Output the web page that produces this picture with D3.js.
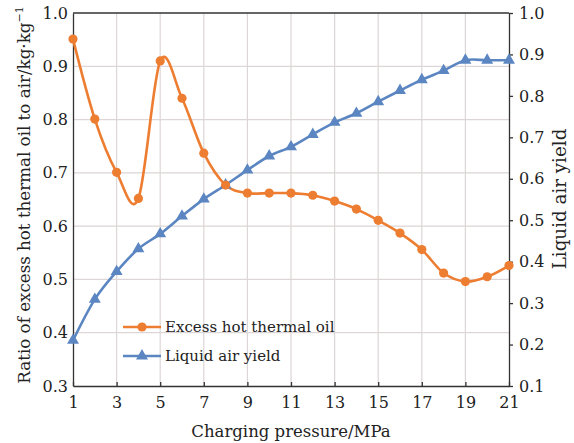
<!DOCTYPE html>
<html>
<head>
<meta charset="utf-8">
<script src="https://cdn.jsdelivr.net/npm/d3@7"></script>
<style>
  html, body { margin: 0; padding: 0; background: #fff; }
</style>
</head>
<body>
<svg id="chart" width="574" height="443"></svg>
<script>
const pressure = [1,2,3,4,5,6,7,8,9,10,11,12,13,14,15,16,17,18,19,20,21];
const oilRatio = [0.951,0.801,0.701,0.652,0.910,0.840,0.737,0.677,0.662,0.662,0.662,0.658,0.647,0.632,0.611,0.587,0.556,0.512,0.496,0.505,0.526];
const airYield = [0.210,0.309,0.376,0.431,0.467,0.510,0.551,0.585,0.621,0.655,0.677,0.707,0.736,0.758,0.786,0.813,0.839,0.861,0.886,0.886,0.886];
const xTicks = [1,3,5,7,9,11,13,15,17,19,21];
const leftTicks = [0.3,0.4,0.5,0.6,0.7,0.8,0.9,1.0];
const rightTicks = [0.1,0.2,0.3,0.4,0.5,0.6,0.7,0.8,0.9,1.0];
const seriesNames = ["Excess hot thermal oil", "Liquid air yield"];

const FONT = "DejaVu Serif";
const orange = "#ED7D31", blue = "#5B86C2", grid = "#ddd6d6", axisCol = "#333", textCol = "#222";
const L = 73, R = 509, T = 13, B = 386;

const svg = d3.select("#chart").attr("font-family", FONT);
const x = d3.scaleLinear().domain([1,21]).range([L,R]);
const yL = d3.scaleLinear().domain([0.3,1.0]).range([B,T]);
const yR = d3.scaleLinear().domain([0.1,1.0]).range([B,T]);

// grid
svg.append("g").selectAll("line").data(xTicks.slice(1,-1)).join("line")
  .attr("x1", d=>x(d)).attr("x2", d=>x(d)).attr("y1", T).attr("y2", B)
  .attr("stroke", grid).attr("stroke-width", 1.2);
svg.append("g").selectAll("line").data(leftTicks.slice(1,-1)).join("line")
  .attr("y1", d=>yL(d)).attr("y2", d=>yL(d)).attr("x1", L).attr("x2", R)
  .attr("stroke", grid).attr("stroke-width", 1.2);

// axes
const fs = "16px";
const gx = svg.append("g").attr("transform", `translate(0,${B})`)
  .call(d3.axisBottom(x).tickValues(xTicks).tickFormat(d3.format("d")).tickSizeInner(-4).tickSizeOuter(0).tickPadding(10.5));
const gl = svg.append("g").attr("transform", `translate(${L},0)`)
  .call(d3.axisLeft(yL).tickValues(leftTicks).tickFormat(d3.format(".1f")).tickSizeInner(0).tickSizeOuter(0).tickPadding(5));
const gr = svg.append("g").attr("transform", `translate(${R},0)`)
  .call(d3.axisRight(yR).tickValues(rightTicks).tickFormat(d3.format(".1f")).tickSizeInner(4).tickSizeOuter(0).tickPadding(6));
[gx,gl,gr].forEach(g => {
  g.attr("font-family", FONT);
  g.selectAll("path.domain").attr("stroke", axisCol).attr("stroke-width", 1.3);
  g.selectAll(".tick line").attr("stroke", axisCol).attr("stroke-width", 1.3);
  g.selectAll("text").attr("font-size", fs).attr("fill", textCol);
});
// top border
svg.append("line").attr("x1", L).attr("x2", R).attr("y1", T).attr("y2", T)
  .attr("stroke", axisCol).attr("stroke-width", 1.3);

// lines
const lineOil = d3.line().x((d,i)=>x(pressure[i])).y(d=>yL(d)).curve(d3.curveCatmullRom.alpha(0));
const lineAir = d3.line().x((d,i)=>x(pressure[i])).y(d=>yR(d)).curve(d3.curveCatmullRom.alpha(0));

svg.append("path").datum(airYield).attr("d", lineAir)
  .attr("fill","none").attr("stroke", blue).attr("stroke-width", 2.6);
svg.append("path").datum(oilRatio).attr("d", lineOil)
  .attr("fill","none").attr("stroke", orange).attr("stroke-width", 2.6);

const tri = d3.symbol().type(d3.symbolTriangle).size(62);
svg.append("g").selectAll("path").data(airYield).join("path")
  .attr("d", tri).attr("fill", blue)
  .attr("transform", (d,i)=>`translate(${x(pressure[i])},${yR(d)})`);
svg.append("g").selectAll("circle").data(oilRatio).join("circle")
  .attr("cx", (d,i)=>x(pressure[i])).attr("cy", d=>yL(d)).attr("r", 4.6).attr("fill", orange);

// legend
const leg = svg.append("g");
const legRows = [{name: seriesNames[0], c: orange, t: "c", y: 327}, {name: seriesNames[1], c: blue, t: "t", y: 356}];
legRows.forEach(r => {
  leg.append("line").attr("x1", 123).attr("x2", 161).attr("y1", r.y).attr("y2", r.y)
    .attr("stroke", r.c).attr("stroke-width", 2.6);
  if (r.t === "c") leg.append("circle").attr("cx", 142).attr("cy", r.y).attr("r", 4.6).attr("fill", r.c);
  else leg.append("path").attr("d", tri).attr("fill", r.c).attr("transform", `translate(142,${r.y})`);
  leg.append("text").attr("x", 165).attr("y", r.y).attr("dy", "0.36em")
    .attr("font-size", "15px").attr("fill", textCol).text(r.name);
});

// axis titles
svg.append("text").attr("x", (L+R)/2).attr("y", 437).attr("text-anchor", "middle")
  .attr("font-size", "16.5px").attr("fill", textCol).text("Charging pressure/MPa");

const lt = svg.append("text").attr("transform", `translate(30,195) rotate(-90)`)
  .attr("text-anchor", "middle").attr("font-size", "16.7px").attr("fill", textCol);
lt.append("tspan").text("Ratio of excess hot thermal oil to air/kg·kg");
lt.append("tspan").attr("font-size", "11px").attr("dy", "-7").text("−1");

svg.append("text").attr("transform", `translate(566,199) rotate(-90)`)
  .attr("text-anchor", "middle").attr("font-size", "18.3px").attr("fill", textCol).text("Liquid air yield");
</script>
</body>
</html>
